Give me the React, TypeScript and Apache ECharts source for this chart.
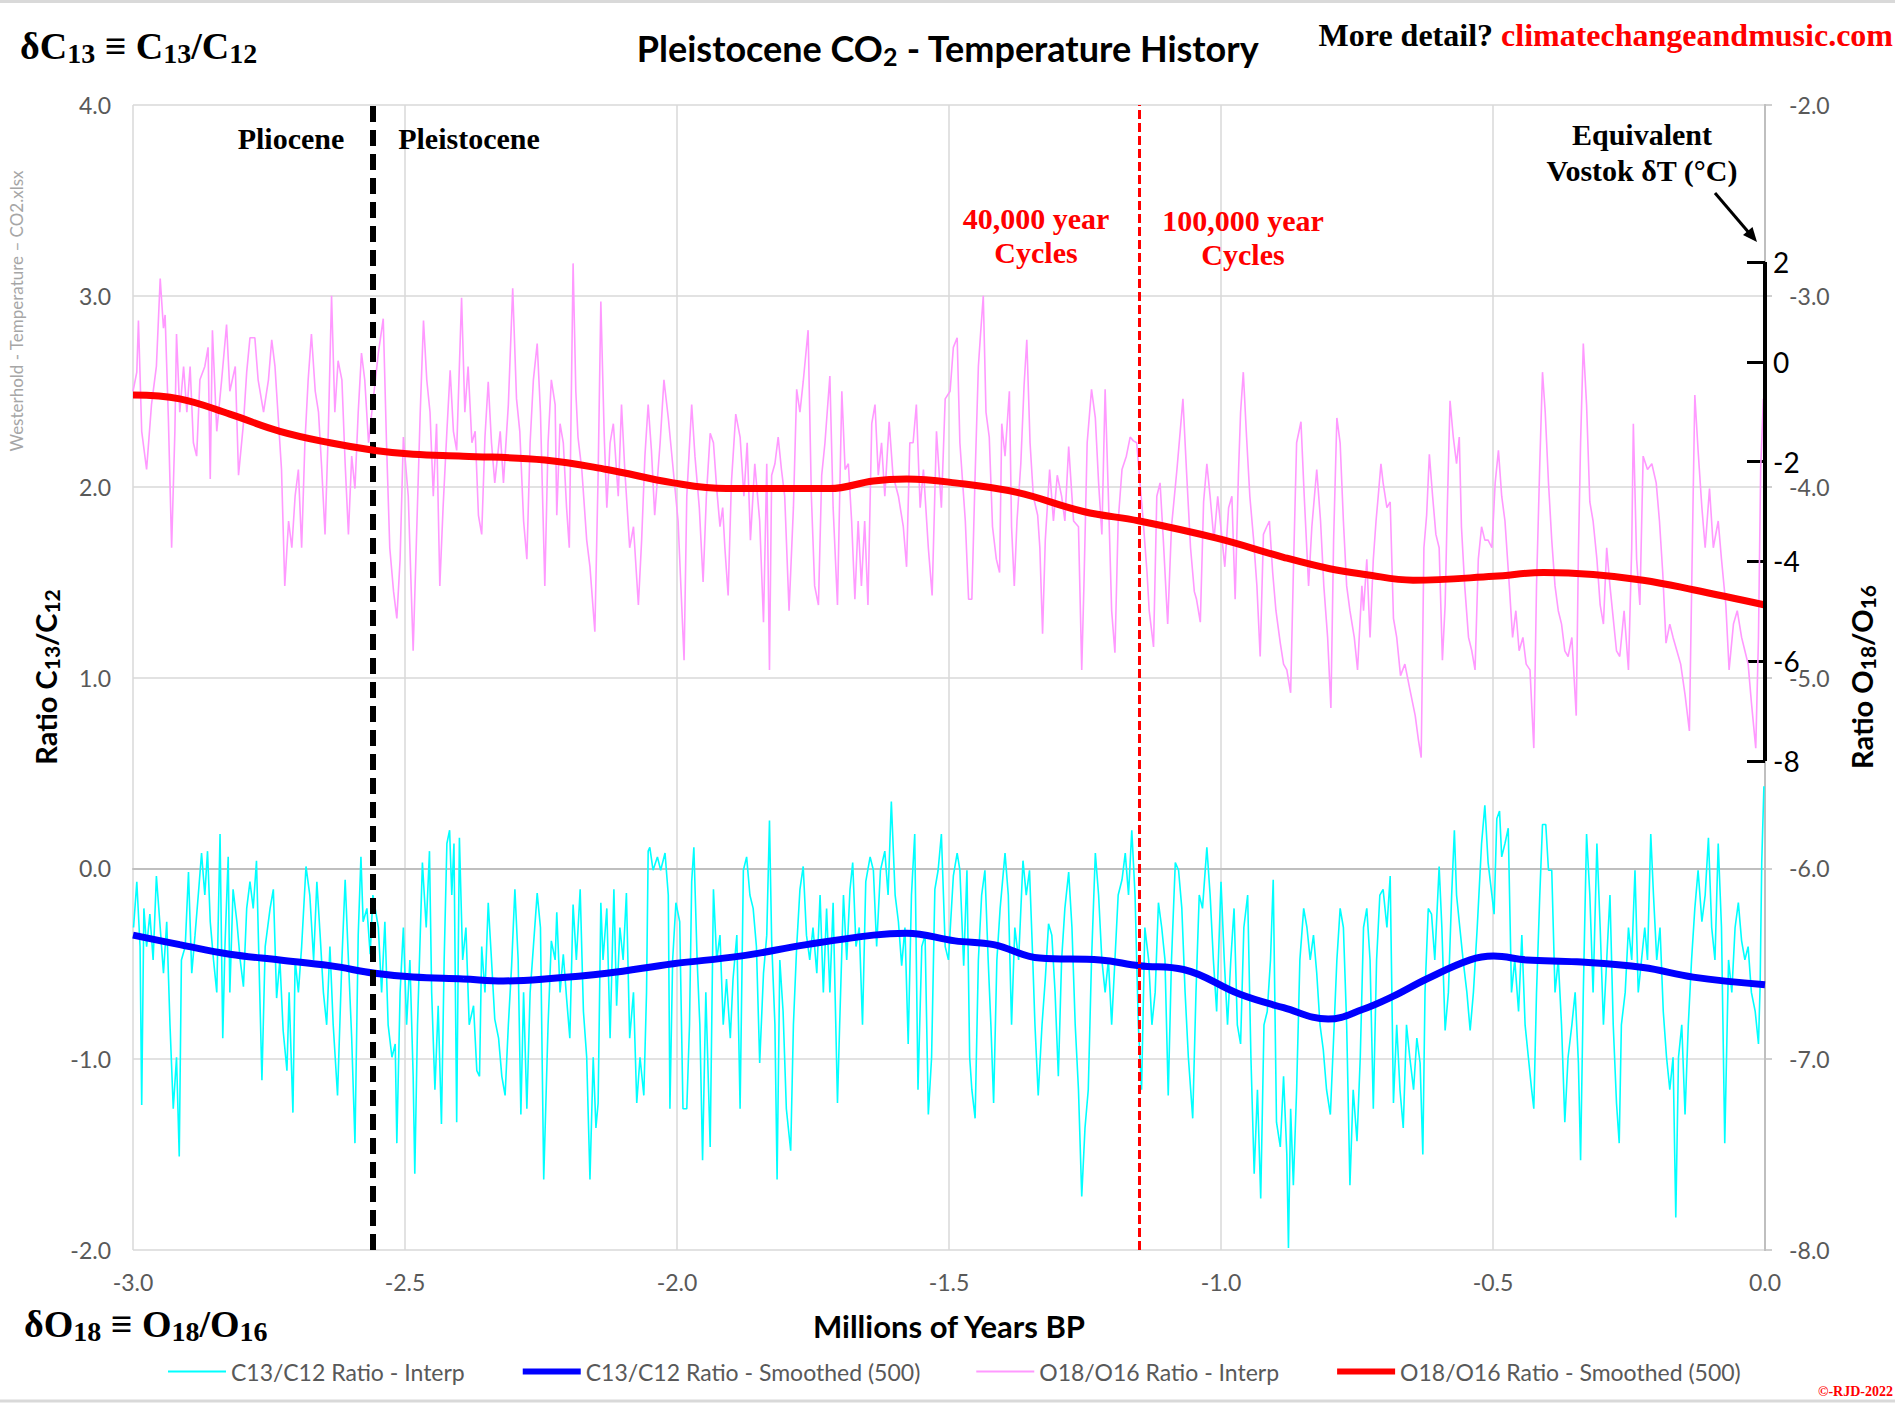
import React, { useEffect, useRef } from "react";
import * as echarts from "echarts";

// ---------- axes ----------
const X_MIN = -3;
const X_MAX = 0;
const X_STEP = 0.5;
const LEFT_MIN = -2;
const LEFT_MAX = 4;
const RIGHT_MIN = -8;
const RIGHT_MAX = -2;
const VOSTOK_TICKS = [2, 0, -2, -4, -6, -8];
const VOSTOK_MIN = -17.8;
const VOSTOK_MAX = 5.146;
const VOSTOK_SPAN: [number, number][] = [
  [0, 2],
  [0, -8],
];
const PLIO_PLEISTO = -2.555;
const MPT = -1.15;

const SERIES_NAMES = [
  "C13/C12 Ratio - Interp",
  "C13/C12 Ratio - Smoothed (500)",
  "O18/O16 Ratio - Interp",
  "O18/O16 Ratio - Smoothed (500)",
];

// ---------- data ----------
const c13Interp: [number, number][] = [
  [-2.999,-0.31],[-2.993,-0.07],[-2.987,-0.41],[-2.984,-1.24],[-2.98,-0.21],[-2.975,-0.41],[-2.969,-0.24],[-2.963,-0.48],[-2.957,-0.04],[-2.95,-0.31],[-2.944,-0.55],[-2.938,-0.28],[-2.932,-0.82],[-2.926,-1.26],[-2.92,-0.99],[-2.915,-1.51],[-2.911,-0.48],[-2.904,-0.41],[-2.898,-0.02],[-2.892,-0.55],[-2.886,-0.35],[-2.88,-0.14],[-2.874,0.08],[-2.868,-0.14],[-2.863,0.09],[-2.858,-0.28],[-2.852,-0.48],[-2.846,-0.65],[-2.84,0.18],[-2.835,-0.89],[-2.831,-0.41],[-2.825,0.06],[-2.822,-0.65],[-2.816,-0.11],[-2.809,-0.28],[-2.803,-0.48],[-2.797,-0.62],[-2.791,-0.21],[-2.785,-0.07],[-2.779,-0.21],[-2.773,0.04],[-2.767,-0.65],[-2.763,-1.11],[-2.757,-0.41],[-2.748,-0.21],[-2.742,-0.11],[-2.736,-0.68],[-2.73,-0.48],[-2.724,-0.85],[-2.717,-1.06],[-2.713,-0.65],[-2.706,-1.28],[-2.702,-0.48],[-2.696,-0.65],[-2.69,-0.41],[-2.682,0.01],[-2.675,-0.14],[-2.668,-0.48],[-2.662,-0.07],[-2.656,-0.35],[-2.65,-0.65],[-2.644,-0.82],[-2.638,-0.41],[-2.632,-0.82],[-2.624,-1.19],[-2.616,-0.48],[-2.61,-0.06],[-2.604,-0.48],[-2.598,-0.89],[-2.592,-1.44],[-2.586,-0.35],[-2.581,0.06],[-2.577,-0.28],[-2.57,-0.21],[-2.564,-0.45],[-2.559,-0.14],[-2.549,-0.31],[-2.543,-0.65],[-2.537,-0.28],[-2.531,-0.82],[-2.524,-0.99],[-2.518,-0.92],[-2.515,-1.44],[-2.509,-0.65],[-2.503,-0.31],[-2.497,-0.82],[-2.491,-0.48],[-2.485,-1.09],[-2.482,-1.6],[-2.477,-0.82],[-2.472,-0.35],[-2.468,0.03],[-2.461,-0.31],[-2.455,0.09],[-2.451,-0.65],[-2.445,-1.16],[-2.439,-0.72],[-2.433,-1.34],[-2.428,-0.48],[-2.423,0.13],[-2.418,0.2],[-2.414,-0.14],[-2.41,0.13],[-2.405,-1.33],[-2.4,0.16],[-2.394,-0.48],[-2.388,-0.31],[-2.382,-0.82],[-2.374,-0.72],[-2.368,-1.06],[-2.363,-1.09],[-2.359,-0.41],[-2.353,-0.65],[-2.347,-0.18],[-2.341,-0.48],[-2.335,-0.79],[-2.328,-0.89],[-2.322,-1.09],[-2.316,-1.19],[-2.31,-0.82],[-2.304,-0.51],[-2.298,-0.11],[-2.292,-0.48],[-2.287,-1.29],[-2.282,-0.65],[-2.276,-1.26],[-2.27,-0.65],[-2.264,-0.41],[-2.257,-0.13],[-2.251,-0.31],[-2.245,-1.63],
  [-2.237,-0.82],[-2.231,-0.38],[-2.224,-0.48],[-2.221,-0.23],[-2.215,-0.65],[-2.209,-0.45],[-2.203,-0.68],[-2.197,-0.89],[-2.191,-0.19],[-2.185,-0.48],[-2.178,-0.11],[-2.172,-0.75],[-2.166,-0.99],[-2.16,-1.63],[-2.154,-0.99],[-2.149,-1.36],[-2.145,-1.23],[-2.14,-0.18],[-2.136,-0.48],[-2.129,-0.21],[-2.123,-0.89],[-2.116,-0.11],[-2.111,-0.72],[-2.105,-0.31],[-2.099,-0.48],[-2.093,-0.13],[-2.087,-0.89],[-2.08,-0.65],[-2.074,-1.23],[-2.068,-0.99],[-2.061,-1.19],[-2.056,-0.65],[-2.053,0.09],[-2.05,0.11],[-2.044,-0.01],[-2.036,0.06],[-2.03,-0.01],[-2.022,0.08],[-2.016,-0.14],[-2.013,-1.26],[-2.008,-0.48],[-2.002,-0.18],[-1.995,-0.28],[-1.989,-1.26],[-1.982,-1.26],[-1.977,-0.82],[-1.973,-0.07],[-1.969,0.11],[-1.963,-0.48],[-1.958,-0.82],[-1.953,-1.53],[-1.947,-0.65],[-1.939,-1.46],[-1.933,-0.11],[-1.927,-0.48],[-1.921,-0.35],[-1.915,-0.82],[-1.909,-0.58],[-1.902,-0.89],[-1.897,-0.58],[-1.89,-0.35],[-1.884,-1.26],[-1.878,-0.01],[-1.872,0.06],[-1.866,-0.14],[-1.86,-0.21],[-1.854,-0.41],[-1.848,-1.02],[-1.841,-0.55],[-1.835,-0.35],[-1.83,0.25],[-1.826,-0.38],[-1.82,-0.82],[-1.816,-1.63],[-1.811,-0.48],[-1.805,-0.75],[-1.799,-1.26],[-1.791,-1.48],[-1.786,-0.82],[-1.78,-0.41],[-1.774,-0.11],[-1.768,0.01],[-1.762,-0.35],[-1.756,-0.48],[-1.75,-0.31],[-1.743,-0.55],[-1.737,-0.14],[-1.731,-0.65],[-1.725,-0.21],[-1.719,-0.65],[-1.713,-0.18],[-1.705,-1.23],[-1.701,-0.82],[-1.694,-0.14],[-1.688,-0.48],[-1.682,-0.11],[-1.677,0.03],[-1.671,-0.41],[-1.665,-0.31],[-1.659,-0.82],[-1.653,-0.07],[-1.645,0.06],[-1.639,-0.01],[-1.633,-0.41],[-1.626,-0.01],[-1.618,0.09],[-1.612,-0.14],[-1.606,0.35],[-1.599,-0.14],[-1.593,-0.28],[-1.587,-0.51],[-1.581,-0.31],[-1.575,-0.92],[-1.569,-0.14],[-1.563,0.18],[-1.557,-1.16],[-1.55,-0.41],[-1.544,-0.35],[-1.538,-1.29],[-1.532,-0.99],[-1.526,-0.11],[-1.52,-0.01],[-1.514,0.18],[-1.507,-0.41],[-1.501,-0.48],[-1.492,-0.04],
  [-1.485,0.08],[-1.48,-0.01],[-1.473,-0.51],[-1.467,-0.01],[-1.462,-0.99],[-1.458,-1.16],[-1.452,-1.31],[-1.446,-0.48],[-1.44,-0.14],[-1.434,-0.01],[-1.428,-0.48],[-1.423,-0.82],[-1.418,-1.23],[-1.412,-0.48],[-1.406,-0.21],[-1.397,0.08],[-1.391,-0.14],[-1.385,-0.82],[-1.379,-0.31],[-1.372,-0.48],[-1.364,0.04],[-1.358,-0.14],[-1.352,-0.01],[-1.346,-0.48],[-1.342,-0.82],[-1.336,-1.19],[-1.329,-0.82],[-1.323,-0.58],[-1.317,-0.29],[-1.311,-0.35],[-1.305,-0.65],[-1.299,-1.09],[-1.293,-0.48],[-1.287,-0.21],[-1.28,-0.02],[-1.274,-0.31],[-1.268,-0.82],[-1.262,-1.16],[-1.256,-1.72],[-1.25,-1.36],[-1.244,-1.16],[-1.238,-0.48],[-1.231,0.08],[-1.225,-0.14],[-1.219,-0.48],[-1.213,-0.65],[-1.207,-0.48],[-1.201,-0.82],[-1.195,-0.48],[-1.189,-0.14],[-1.182,-0.06],[-1.176,0.08],[-1.17,-0.14],[-1.164,0.2],[-1.158,-0.14],[-1.152,-0.82],[-1.146,-1.16],[-1.14,-0.31],[-1.133,-0.48],[-1.127,-0.82],[-1.121,-0.65],[-1.115,-0.18],[-1.109,-0.31],[-1.103,-0.48],[-1.097,-1.19],[-1.091,-0.48],[-1.084,0.03],[-1.078,-0.01],[-1.072,-0.21],[-1.066,-0.65],[-1.06,-0.99],[-1.052,-1.31],[-1.046,-0.65],[-1.04,-0.14],[-1.034,-0.21],[-1.026,0.11],[-1.02,-0.14],[-1.014,-0.48],[-1.008,-0.75],[-1.0,-0.07],[-0.994,-0.48],[-0.988,-0.82],[-0.982,-0.48],[-0.976,-0.21],[-0.97,-0.82],[-0.964,-0.92],[-0.958,-0.31],[-0.951,-0.14],[-0.945,-0.99],[-0.939,-1.6],[-0.933,-1.16],[-0.927,-1.73],[-0.921,-0.82],[-0.915,-0.75],[-0.909,-0.48],[-0.904,-0.06],[-0.898,-1.33],[-0.891,-1.46],[-0.885,-1.09],[-0.879,-1.5],[-0.876,-1.99],[-0.872,-1.26],[-0.867,-1.66],[-0.861,-1.16],[-0.855,-0.48],[-0.848,-0.21],[-0.842,-0.31],[-0.836,-0.48],[-0.83,-0.35],[-0.824,-0.55],[-0.818,-0.82],[-0.812,-0.95],[-0.806,-1.16],[-0.799,-1.29],[-0.793,-0.89],[-0.787,-0.48],[-0.781,-0.21],[-0.775,-0.31],[-0.769,-0.82],[-0.763,-1.66],[-0.757,-1.16],[-0.75,-1.43],[-0.744,-0.99],[-0.738,-0.31],
  [-0.732,-0.21],[-0.726,-0.48],[-0.72,-1.26],[-0.714,-0.48],[-0.708,-0.14],[-0.702,-0.11],[-0.695,-0.31],[-0.689,-0.04],[-0.683,-1.23],[-0.677,-0.82],[-0.671,-1.16],[-0.665,-1.36],[-0.659,-0.82],[-0.653,-0.99],[-0.646,-1.16],[-0.64,-0.89],[-0.634,-1.02],[-0.629,-1.5],[-0.625,-0.65],[-0.619,-0.21],[-0.613,-0.24],[-0.607,-0.48],[-0.599,0.01],[-0.594,-0.31],[-0.588,-0.85],[-0.582,-0.65],[-0.576,-0.14],[-0.571,0.2],[-0.567,-0.14],[-0.561,-0.31],[-0.555,-0.48],[-0.548,-0.65],[-0.542,-0.85],[-0.536,-0.65],[-0.529,-0.31],[-0.521,0.13],[-0.515,0.33],[-0.509,0.03],[-0.502,-0.14],[-0.498,-0.24],[-0.493,0.26],[-0.488,0.3],[-0.484,0.06],[-0.478,0.13],[-0.472,0.21],[-0.466,-0.65],[-0.46,-0.48],[-0.453,-0.75],[-0.447,-0.35],[-0.441,-0.82],[-0.435,-0.99],[-0.429,-1.16],[-0.425,-1.26],[-0.42,-0.65],[-0.414,-0.14],[-0.409,0.23],[-0.403,0.23],[-0.398,-0.01],[-0.392,-0.01],[-0.386,-0.65],[-0.38,-0.48],[-0.374,-0.82],[-0.368,-1.33],[-0.362,-0.99],[-0.355,-0.82],[-0.349,-0.65],[-0.343,-1.02],[-0.339,-1.53],[-0.334,-0.65],[-0.328,0.18],[-0.322,-0.14],[-0.316,-0.65],[-0.309,0.13],[-0.303,-0.31],[-0.297,-0.82],[-0.291,-0.48],[-0.285,-0.14],[-0.279,-0.82],[-0.273,-1.23],[-0.268,-1.44],[-0.264,-0.82],[-0.257,-0.65],[-0.251,-0.31],[-0.245,-0.48],[-0.239,-0.01],[-0.233,-0.65],[-0.227,-0.48],[-0.221,-0.31],[-0.216,-0.48],[-0.21,0.18],[-0.205,-0.14],[-0.199,-0.48],[-0.193,-0.31],[-0.187,-0.75],[-0.181,-0.99],[-0.175,-1.16],[-0.169,-0.99],[-0.164,-1.83],[-0.159,-0.99],[-0.153,-0.82],[-0.147,-1.29],[-0.141,-0.82],[-0.135,-0.48],[-0.129,-0.21],[-0.123,-0.01],[-0.116,-0.28],[-0.11,-0.14],[-0.104,0.16],[-0.098,-0.31],[-0.092,-0.48],[-0.086,0.13],[-0.08,-0.31],[-0.074,-1.44],[-0.067,-0.48],[-0.061,-0.65],[-0.055,-0.31],[-0.049,-0.18],[-0.043,-0.38],[-0.037,-0.48],[-0.031,-0.41],[-0.025,-0.65],[-0.018,-0.75],[-0.012,-0.92],[-0.009,-0.62],[-0.006,0.03],[-0.002,0.43],
];

const c13Smooth: [number, number][] = [
  [-3.0,-0.35],[-2.914,-0.4],[-2.822,-0.45],[-2.73,-0.48],[-2.638,-0.51],[-2.555,-0.55],[-2.485,-0.57],[-2.393,-0.58],[-2.319,-0.59],[-2.243,-0.58],[-2.129,-0.55],[-2.007,-0.5],[-1.884,-0.46],[-1.762,-0.4],[-1.639,-0.35],[-1.578,-0.34],[-1.489,-0.38],[-1.418,-0.4],[-1.333,-0.47],[-1.222,-0.48],[-1.15,-0.51],[-1.069,-0.53],[-0.965,-0.66],[-0.885,-0.73],[-0.803,-0.79],[-0.74,-0.74],[-0.683,-0.67],[-0.622,-0.58],[-0.542,-0.48],[-0.499,-0.46],[-0.438,-0.48],[-0.346,-0.49],[-0.224,-0.52],[-0.132,-0.57],[0.0,-0.61],
];

const o18Interp: [number, number][] = [
  [-3.0,-3.5],[-2.993,-3.4],[-2.99,-3.13],[-2.984,-3.71],[-2.975,-3.91],[-2.966,-3.57],[-2.957,-3.37],[-2.95,-2.91],[-2.944,-3.17],[-2.941,-3.1],[-2.935,-3.64],[-2.929,-4.32],[-2.923,-3.71],[-2.92,-3.2],[-2.914,-3.61],[-2.907,-3.37],[-2.901,-3.61],[-2.895,-3.37],[-2.889,-3.77],[-2.883,-3.84],[-2.877,-3.44],[-2.868,-3.37],[-2.862,-3.27],[-2.858,-3.96],[-2.854,-3.18],[-2.846,-3.71],[-2.837,-3.44],[-2.828,-3.15],[-2.822,-3.5],[-2.812,-3.37],[-2.806,-3.94],[-2.797,-3.67],[-2.791,-3.4],[-2.785,-3.22],[-2.776,-3.22],[-2.77,-3.44],[-2.76,-3.61],[-2.751,-3.44],[-2.745,-3.23],[-2.739,-3.37],[-2.733,-3.64],[-2.727,-3.91],[-2.721,-4.52],[-2.714,-4.18],[-2.708,-4.32],[-2.702,-4.05],[-2.696,-3.91],[-2.69,-4.32],[-2.684,-3.77],[-2.678,-3.44],[-2.672,-3.2],[-2.665,-3.5],[-2.659,-3.61],[-2.653,-3.91],[-2.647,-4.25],[-2.641,-3.71],[-2.635,-3.0],[-2.629,-3.61],[-2.623,-3.34],[-2.616,-3.44],[-2.61,-3.88],[-2.604,-4.25],[-2.598,-3.84],[-2.592,-4.01],[-2.586,-3.61],[-2.58,-3.3],[-2.574,-3.44],[-2.567,-3.77],[-2.561,-3.61],[-2.549,-3.3],[-2.54,-3.12],[-2.534,-3.77],[-2.528,-4.32],[-2.521,-4.55],[-2.515,-4.69],[-2.509,-4.38],[-2.503,-3.74],[-2.494,-4.05],[-2.485,-4.86],[-2.479,-4.28],[-2.472,-3.61],[-2.466,-3.13],[-2.46,-3.44],[-2.454,-3.61],[-2.448,-4.05],[-2.442,-3.67],[-2.436,-4.52],[-2.43,-4.11],[-2.423,-3.71],[-2.417,-3.39],[-2.411,-3.71],[-2.405,-3.81],[-2.396,-3.01],[-2.39,-3.61],[-2.384,-3.37],[-2.377,-3.77],[-2.371,-3.71],[-2.365,-4.15],[-2.359,-4.25],[-2.353,-3.74],[-2.347,-3.45],[-2.341,-3.77],[-2.335,-3.98],[-2.325,-3.71],[-2.319,-3.98],[-2.31,-3.57],[-2.302,-2.96],[-2.295,-3.54],[-2.289,-3.71],[-2.282,-4.18],[-2.276,-4.38],[-2.27,-3.77],[-2.264,-3.44],[-2.257,-3.25],[-2.251,-3.61],[-2.243,-4.52],
  [-2.237,-3.77],[-2.231,-3.44],[-2.224,-3.57],[-2.221,-4.15],[-2.215,-3.67],[-2.209,-3.77],[-2.203,-4.11],[-2.198,-4.32],[-2.191,-2.83],[-2.186,-3.5],[-2.182,-3.74],[-2.175,-3.91],[-2.166,-4.28],[-2.16,-4.42],[-2.151,-4.76],[-2.145,-3.94],[-2.14,-3.03],[-2.134,-3.71],[-2.129,-4.11],[-2.123,-3.77],[-2.117,-3.67],[-2.108,-4.05],[-2.102,-3.57],[-2.096,-3.91],[-2.087,-4.32],[-2.08,-4.21],[-2.071,-4.62],[-2.065,-4.28],[-2.059,-3.84],[-2.053,-3.57],[-2.047,-3.81],[-2.041,-4.15],[-2.031,-3.77],[-2.024,-3.44],[-2.016,-3.64],[-2.007,-3.91],[-1.998,-4.18],[-1.995,-4.38],[-1.987,-4.91],[-1.982,-4.05],[-1.973,-3.57],[-1.967,-3.84],[-1.959,-4.11],[-1.952,-4.5],[-1.946,-4.05],[-1.939,-3.72],[-1.933,-3.77],[-1.927,-4.01],[-1.921,-4.21],[-1.916,-4.11],[-1.912,-4.32],[-1.906,-4.57],[-1.9,-3.98],[-1.892,-3.62],[-1.884,-3.74],[-1.877,-4.05],[-1.871,-3.77],[-1.865,-4.28],[-1.857,-3.88],[-1.848,-4.18],[-1.841,-4.71],[-1.835,-3.88],[-1.83,-4.96],[-1.826,-3.94],[-1.82,-3.88],[-1.814,-3.74],[-1.808,-3.91],[-1.802,-4.05],[-1.794,-4.65],[-1.786,-4.11],[-1.78,-3.49],[-1.774,-3.61],[-1.768,-3.45],[-1.759,-3.18],[-1.753,-4.05],[-1.747,-4.52],[-1.74,-4.62],[-1.734,-3.94],[-1.728,-3.77],[-1.719,-3.42],[-1.713,-4.11],[-1.705,-4.62],[-1.697,-3.5],[-1.691,-3.91],[-1.685,-3.88],[-1.679,-4.18],[-1.673,-4.59],[-1.667,-4.18],[-1.661,-4.52],[-1.655,-4.18],[-1.649,-4.62],[-1.642,-3.67],[-1.636,-3.57],[-1.63,-3.94],[-1.624,-3.77],[-1.618,-4.05],[-1.61,-3.66],[-1.603,-3.94],[-1.593,-4.05],[-1.584,-4.21],[-1.578,-4.42],[-1.572,-3.77],[-1.566,-3.77],[-1.56,-3.57],[-1.553,-4.11],[-1.547,-3.91],[-1.538,-4.32],[-1.531,-4.57],[-1.523,-3.71],[-1.514,-4.11],[-1.507,-3.54],[-1.498,-3.5],[-1.492,-3.27],
  [-1.485,-3.22],[-1.48,-3.77],[-1.47,-4.18],[-1.464,-4.59],[-1.458,-4.59],[-1.452,-3.94],[-1.446,-3.37],[-1.442,-3.2],[-1.437,-3.0],[-1.432,-3.61],[-1.426,-3.74],[-1.42,-4.21],[-1.413,-4.38],[-1.407,-4.45],[-1.403,-3.67],[-1.397,-3.84],[-1.389,-3.5],[-1.385,-4.21],[-1.38,-4.52],[-1.375,-4.18],[-1.368,-3.88],[-1.362,-3.47],[-1.357,-3.23],[-1.351,-3.77],[-1.345,-4.05],[-1.337,-4.15],[-1.333,-4.32],[-1.328,-4.77],[-1.323,-4.28],[-1.315,-3.91],[-1.308,-4.18],[-1.301,-3.94],[-1.293,-4.05],[-1.287,-4.18],[-1.28,-3.79],[-1.271,-4.18],[-1.262,-4.21],[-1.256,-4.96],[-1.252,-4.52],[-1.246,-3.77],[-1.238,-3.49],[-1.231,-3.64],[-1.225,-3.98],[-1.219,-4.25],[-1.213,-3.49],[-1.207,-4.05],[-1.201,-4.65],[-1.195,-4.87],[-1.189,-4.18],[-1.182,-3.91],[-1.174,-3.84],[-1.167,-3.74],[-1.161,-3.76],[-1.155,-3.77],[-1.143,-4.18],[-1.136,-4.45],[-1.132,-4.65],[-1.124,-4.84],[-1.118,-4.05],[-1.112,-3.98],[-1.106,-4.28],[-1.098,-4.72],[-1.091,-4.21],[-1.081,-3.91],[-1.075,-3.71],[-1.07,-3.54],[-1.063,-3.94],[-1.056,-4.32],[-1.049,-4.55],[-1.045,-4.59],[-1.038,-4.71],[-1.032,-4.08],[-1.026,-3.88],[-1.02,-4.05],[-1.013,-4.28],[-1.006,-4.05],[-0.999,-4.25],[-0.993,-4.42],[-0.986,-4.11],[-0.98,-4.05],[-0.974,-4.59],[-0.968,-3.94],[-0.964,-3.61],[-0.959,-3.4],[-0.953,-3.74],[-0.947,-4.05],[-0.94,-4.28],[-0.934,-4.52],[-0.928,-4.89],[-0.922,-4.25],[-0.916,-4.21],[-0.911,-4.18],[-0.905,-4.45],[-0.899,-4.65],[-0.891,-4.82],[-0.885,-4.93],[-0.879,-4.96],[-0.872,-5.08],[-0.867,-4.45],[-0.861,-3.77],[-0.853,-3.66],[-0.847,-4.05],[-0.839,-4.52],[-0.833,-4.21],[-0.824,-3.91],[-0.817,-4.18],[-0.811,-4.52],[-0.804,-4.79],[-0.798,-5.16],[-0.793,-4.28],[-0.787,-3.64],[-0.781,-3.77],[-0.775,-4.18],[-0.769,-4.52],[-0.763,-4.65],[-0.755,-4.79],[-0.749,-4.96],[-0.741,-4.52],
  [-0.738,-4.65],[-0.732,-4.38],[-0.726,-4.79],[-0.72,-4.38],[-0.715,-4.18],[-0.711,-4.05],[-0.706,-3.88],[-0.702,-3.98],[-0.695,-4.11],[-0.689,-4.08],[-0.683,-4.69],[-0.677,-4.79],[-0.67,-4.99],[-0.662,-4.93],[-0.653,-5.06],[-0.643,-5.2],[-0.637,-5.33],[-0.632,-5.42],[-0.627,-4.32],[-0.622,-4.15],[-0.617,-3.83],[-0.611,-4.05],[-0.605,-4.25],[-0.599,-4.32],[-0.593,-4.91],[-0.588,-4.62],[-0.584,-4.11],[-0.579,-3.55],[-0.573,-3.74],[-0.567,-3.88],[-0.562,-3.74],[-0.558,-4.21],[-0.552,-4.52],[-0.545,-4.79],[-0.539,-4.86],[-0.533,-4.96],[-0.527,-4.38],[-0.521,-4.21],[-0.515,-4.28],[-0.509,-4.28],[-0.502,-4.32],[-0.496,-3.98],[-0.49,-3.81],[-0.484,-4.05],[-0.478,-4.18],[-0.47,-4.52],[-0.464,-4.79],[-0.458,-4.65],[-0.452,-4.86],[-0.445,-4.79],[-0.439,-4.93],[-0.432,-4.96],[-0.425,-5.37],[-0.42,-4.52],[-0.414,-3.88],[-0.409,-3.4],[-0.404,-3.61],[-0.398,-3.98],[-0.392,-4.28],[-0.386,-4.52],[-0.38,-4.65],[-0.374,-4.72],[-0.368,-4.86],[-0.362,-4.89],[-0.355,-4.79],[-0.347,-5.2],[-0.343,-4.35],[-0.339,-3.77],[-0.334,-3.25],[-0.328,-3.57],[-0.322,-4.08],[-0.316,-4.18],[-0.309,-4.38],[-0.303,-4.62],[-0.297,-4.72],[-0.291,-4.32],[-0.285,-4.52],[-0.279,-4.69],[-0.273,-4.86],[-0.267,-4.89],[-0.259,-4.65],[-0.251,-4.96],[-0.245,-4.32],[-0.242,-3.67],[-0.236,-4.38],[-0.23,-4.62],[-0.224,-3.84],[-0.216,-3.91],[-0.208,-3.88],[-0.2,-3.98],[-0.194,-4.18],[-0.188,-4.45],[-0.182,-4.82],[-0.175,-4.72],[-0.169,-4.79],[-0.162,-4.86],[-0.155,-4.93],[-0.147,-5.09],[-0.139,-5.28],[-0.133,-4.21],[-0.129,-3.52],[-0.123,-3.81],[-0.116,-4.11],[-0.11,-4.32],[-0.102,-4.01],[-0.095,-4.32],[-0.086,-4.18],[-0.08,-4.38],[-0.072,-4.62],[-0.066,-4.96],[-0.058,-4.72],[-0.051,-4.65],[-0.043,-4.79],[-0.037,-4.86],[-0.031,-4.93],[-0.025,-5.13],[-0.017,-5.37],[-0.012,-4.79],[-0.008,-3.91],[-0.003,-3.54],
];

const o18Smooth: [number, number][] = [
  [-3.0,-3.52],[-2.914,-3.54],[-2.822,-3.62],[-2.73,-3.71],[-2.638,-3.77],[-2.555,-3.81],[-2.485,-3.83],[-2.393,-3.84],[-2.243,-3.86],[-2.129,-3.91],[-2.007,-3.98],[-1.909,-4.01],[-1.719,-4.01],[-1.639,-3.97],[-1.578,-3.96],[-1.489,-3.98],[-1.375,-4.03],[-1.253,-4.13],[-1.15,-4.18],[-1.008,-4.27],[-0.885,-4.37],[-0.8,-4.43],[-0.735,-4.46],[-0.647,-4.49],[-0.499,-4.47],[-0.407,-4.45],[-0.316,-4.46],[-0.224,-4.49],[-0.132,-4.54],[0.0,-4.62],
];

// ---------- styling ----------
const SERIF = "'Liberation Serif', 'Times New Roman', serif";
const SANS = "Lato, 'Liberation Sans', 'DejaVu Sans', sans-serif";
const GRAY_TEXT = "#595959";
const GRID_LINE = "#d9d9d9";
const AXIS_LINE = "#bfbfbf";
const COLORS = ["#00ffff", "#0000ff", "#ff99ff", "#ff0000"];
const WIDTHS = [1.6, 7, 1.6, 7];

function subText(
  x: number,
  y: number,
  text: string,
  mainSize: number,
  subSize: number,
  family: string,
  align: string,
  extra: any = {}
) {
  return {
    type: "text",
    x,
    y,
    z: 100,
    silent: true,
    ...extra,
    style: {
      text,
      x: 0,
      y: 0,
      align,
      textAlign: align,
      verticalAlign: "middle",
      textVerticalAlign: "middle",
      rich: {
        m: {
          fontFamily: family,
          fontWeight: "bold",
          fontSize: mainSize,
          lineHeight: mainSize + 4,
          fill: "#000",
        },
        s: {
          fontFamily: family,
          fontWeight: "bold",
          fontSize: subSize,
          lineHeight: Math.round(subSize * 0.45),
          verticalAlign: "bottom",
          fill: "#000",
        },
      },
    },
  };
}

function plainText(
  x: number,
  y: number,
  text: string,
  font: string,
  fill: string,
  align: string,
  extra: any = {}
) {
  const { lineHeight, ...rest } = extra;
  return {
    type: "text",
    x,
    y,
    z: 100,
    silent: true,
    ...rest,
    style: {
      text,
      x: 0,
      y: 0,
      font,
      fill,
      align,
      textAlign: align,
      verticalAlign: "middle",
      textVerticalAlign: "middle",
      lineHeight,
    },
  };
}

export default function App() {
  const ref = useRef<HTMLDivElement>(null);

  useEffect(() => {
    document.body.style.margin = "0";
    if (!ref.current) return;
    const chart = echarts.init(ref.current, undefined, { renderer: "svg" });

    const fmt1 = (v: number) => v.toFixed(1);
    const seriesData = [c13Interp, c13Smooth, o18Interp, o18Smooth];
    const yIdx = [0, 0, 1, 1];

    const dataSeries = SERIES_NAMES.map((name, i) => ({
      name,
      type: "line",
      yAxisIndex: yIdx[i],
      data: seriesData[i],
      smooth: WIDTHS[i] > 3 ? 0.4 : false,
      showSymbol: false,
      symbol: "none",
      lineStyle: { color: COLORS[i], width: WIDTHS[i] },
      itemStyle: { color: COLORS[i] },
      z: 2 + i,
    }));

    const option: any = {
      animation: false,
      backgroundColor: "#ffffff",
      grid: { left: 133, right: 130, top: 105, bottom: 154, containLabel: false },
      legend: {
        data: SERIES_NAMES.map((name, i) => ({
          name,
          lineStyle: { color: COLORS[i], width: WIDTHS[i] > 3 ? 6 : 2 },
        })),
        left: 167,
        top: 1360,
        padding: 0,
        itemWidth: 58,
        itemHeight: 14,
        itemGap: 55,
        itemStyle: { opacity: 0 },
        textStyle: { color: GRAY_TEXT, fontSize: 23, fontFamily: SANS },
        selectedMode: false,
      },
      xAxis: {
        type: "value",
        min: X_MIN,
        max: X_MAX,
        interval: X_STEP,
        axisLine: { show: true, lineStyle: { color: AXIS_LINE, width: 2 } },
        axisTick: { show: false },
        splitLine: { show: true, lineStyle: { color: GRID_LINE, width: 1.5 } },
        axisLabel: {
          formatter: fmt1,
          color: GRAY_TEXT,
          fontSize: 23,
          fontFamily: SANS,
          margin: 20,
        },
      },
      yAxis: [
        {
          type: "value",
          position: "left",
          min: LEFT_MIN,
          max: LEFT_MAX,
          interval: 1,
          axisLine: { show: true, lineStyle: { color: AXIS_LINE, width: 2 } },
          axisTick: { show: false },
          splitLine: { show: true, lineStyle: { color: GRID_LINE, width: 1.5 } },
          axisLabel: {
            formatter: fmt1,
            color: GRAY_TEXT,
            fontSize: 23,
            fontFamily: SANS,
            margin: 22,
          },
        },
        {
          type: "value",
          position: "right",
          min: RIGHT_MIN,
          max: RIGHT_MAX,
          interval: 1,
          axisLine: { show: true, lineStyle: { color: AXIS_LINE, width: 2 } },
          axisTick: { show: true, length: 7, lineStyle: { color: AXIS_LINE, width: 1.5 } },
          splitLine: { show: false },
          axisLabel: {
            formatter: fmt1,
            color: GRAY_TEXT,
            fontSize: 23,
            fontFamily: SANS,
            margin: 24,
          },
        },
        {
          type: "value",
          position: "right",
          offset: 0,
          min: VOSTOK_MIN,
          max: VOSTOK_MAX,
          axisLine: { show: false },
          splitLine: { show: false },
          axisTick: {
            show: true,
            inside: true,
            length: 18,
            customValues: VOSTOK_TICKS,
            lineStyle: { color: "#000", width: 3 },
          },
          axisLabel: {
            customValues: VOSTOK_TICKS,
            formatter: (v: number) => String(v),
            color: "#000",
            fontSize: 28,
            fontFamily: SANS,
            margin: 8,
          },
        },
      ],
      series: [
        ...dataSeries,
        {
          name: "vostok-axis",
          type: "line",
          yAxisIndex: 2,
          data: VOSTOK_SPAN,
          clip: false,
          silent: true,
          showSymbol: false,
          symbol: "none",
          lineStyle: { color: "#000", width: 4 },
          z: 8,
          markLine: {
            silent: true,
            symbol: "none",
            label: { show: false },
            animation: false,
            data: [
              { xAxis: PLIO_PLEISTO, lineStyle: { color: "#000", width: 6, type: [16, 8] } },
              { xAxis: MPT, lineStyle: { color: "#ff0000", width: 3, type: [9, 4] } },
            ],
          },
        },
      ],
      graphic: {
        elements: [
          {
            type: "line",
            silent: true,
            z: 0,
            shape: { x1: 0, y1: 1.5, x2: 1895, y2: 1.5 },
            style: { stroke: GRID_LINE, lineWidth: 3 },
          },
          {
            type: "line",
            silent: true,
            z: 0,
            shape: { x1: 0, y1: 1401, x2: 1895, y2: 1401 },
            style: { stroke: GRID_LINE, lineWidth: 3 },
          },
          subText(20, 46, "{m|δC}{s|13}{m| ≡ C}{s|13}{m|/C}{s|12}", 38, 28, SERIF, "left"),
          subText(24, 1324, "{m|δO}{s|18}{m| ≡ O}{s|18}{m|/O}{s|16}", 38, 28, SERIF, "left"),
          subText(948, 48, "{m|Pleistocene CO}{s|2}{m| - Temperature History}", 36, 25, SANS, "center"),
          {
            type: "text",
            x: 1893,
            y: 35,
            z: 100,
            silent: true,
            style: {
              text: "{k|More detail? }{r|climatechangeandmusic.com}",
              x: 0,
              y: 0,
              align: "right",
              textAlign: "right",
              verticalAlign: "middle",
              textVerticalAlign: "middle",
              rich: {
                k: { fontFamily: SERIF, fontWeight: "bold", fontSize: 32, fill: "#000" },
                r: { fontFamily: SERIF, fontWeight: "bold", fontSize: 32, fill: "#ff0000" },
              },
            },
          },
          plainText(291, 138, "Pliocene", `bold 30px ${SERIF}`, "#000", "center"),
          plainText(469, 138, "Pleistocene", `bold 30px ${SERIF}`, "#000", "center"),
          plainText(1036, 235, "40,000 year\nCycles", `bold 30px ${SERIF}`, "#ff0000", "center", { lineHeight: 34 }),
          plainText(1243, 237, "100,000 year\nCycles", `bold 30px ${SERIF}`, "#ff0000", "center", { lineHeight: 34 }),
          plainText(1642, 152, "Equivalent\nVostok δT (°C)", `bold 30px ${SERIF}`, "#000", "center", { lineHeight: 36 }),
          {
            type: "line",
            silent: true,
            z: 100,
            shape: { x1: 1715, y1: 193, x2: 1750, y2: 234 },
            style: { stroke: "#000", lineWidth: 3 },
          },
          {
            type: "polygon",
            silent: true,
            z: 100,
            shape: { points: [[1757, 242], [1743, 235], [1752.5, 227]] },
            style: { fill: "#000" },
          },
          plainText(949, 1326, "Millions of Years BP", `bold 31px ${SANS}`, "#000", "center"),
          subText(45, 677, "{m|Ratio C}{s|13}{m|/C}{s|12}", 29, 21, SANS, "center", { rotation: Math.PI / 2 }),
          subText(1861, 677, "{m|Ratio O}{s|18}{m|/O}{s|16}", 29, 21, SANS, "center", { rotation: Math.PI / 2 }),
          plainText(16, 311, "Westerhold - Temperature – CO2.xlsx", `17px ${SANS}`, "#a6a6a6", "center", { rotation: Math.PI / 2 }),
          plainText(1893, 1391, "©-RJD-2022", `bold 14px ${SERIF}`, "#ff0000", "right"),
        ],
      },
    };

    chart.setOption(option);
    return () => {
      chart.dispose();
    };
  }, []);

  return (
    <div
      ref={ref}
      style={{ position: "absolute", left: 0, top: 0, width: 1895, height: 1404 }}
    />
  );
}
